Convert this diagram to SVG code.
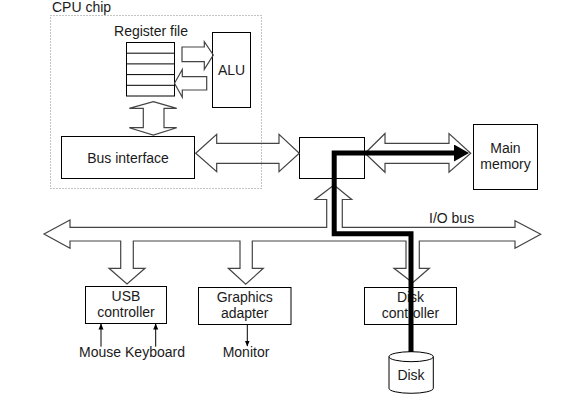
<svg xmlns="http://www.w3.org/2000/svg" width="561" height="410" viewBox="0 0 561 410">
<style>
text{font-family:"Liberation Sans",Arial,sans-serif;font-size:14px;fill:#1a1a1a}
.c{text-anchor:middle}
.box{fill:#fff;stroke:#000;stroke-width:1}
.hollow{fill:none;stroke:#444;stroke-width:1.2;stroke-linejoin:miter}
.thin{stroke:#000;stroke-width:1;fill:none}
.thick{stroke:#000;stroke-width:5;fill:none;stroke-linejoin:miter}
</style>
<defs>
<marker id="small" markerUnits="userSpaceOnUse" markerWidth="6" markerHeight="6" viewBox="0 0 6 6" refX="5.5" refY="3" orient="auto">
<path d="M0,0.5 L6,3 L0,5.5 z" fill="#000"/>
</marker>
<marker id="big" markerUnits="userSpaceOnUse" markerWidth="16" markerHeight="17" viewBox="0 0 16 17" refX="1" refY="8.5" orient="auto">
<path d="M0,0 L15,8.5 L0,17 z" fill="#000"/>
</marker>
</defs>

<g id="cpu-chip">
<rect x="50.5" y="15.5" width="211" height="173" fill="none" stroke="#888" stroke-width="1" stroke-dasharray="1,2"/>
<text x="52" y="11.5">CPU chip</text>
</g>

<g id="register-file">
<text class="c" x="151" y="36">Register file</text>
<rect class="box" x="126.5" y="42.5" width="48" height="53.5"/>
<path class="thin" d="M126.5,53.2H174.5M126.5,63.9H174.5M126.5,74.6H174.5M126.5,85.3H174.5"/>
</g>

<g id="alu">
<rect class="box" x="212.5" y="32.5" width="38" height="75"/>
<text class="c" x="231.5" y="75">ALU</text>
</g>

<g id="bus-interface">
<rect class="box" x="61.5" y="136.5" width="133" height="42"/>
<text class="c" x="128" y="163.3">Bus interface</text>
</g>

<g id="io-bridge">
<rect class="box" x="299.5" y="137.5" width="65" height="41"/>
</g>

<g id="main-memory">
<rect class="box" x="473.5" y="124.5" width="64" height="65"/>
<text class="c" x="505.5" y="153">Main</text>
<text class="c" x="505.5" y="169">memory</text>
</g>

<g id="usb-controller">
<rect class="box" x="85.5" y="286.5" width="81" height="37"/>
<text class="c" x="126" y="300.7">USB</text>
<text class="c" x="126" y="317.3">controller</text>
</g>

<g id="graphics-adapter">
<rect class="box" x="198.5" y="287.5" width="92.5" height="37"/>
<text class="c" x="244.7" y="301.7">Graphics</text>
<text class="c" x="244.7" y="318.3">adapter</text>
</g>

<g id="disk-controller">
<rect class="box" x="364.5" y="287.5" width="92" height="37"/>
<text class="c" x="410.5" y="301.7">Disk</text>
<text class="c" x="410.5" y="318.3">controller</text>
</g>

<g id="disk">
<path class="box" d="M389,356.7 A22.15,5 0 0 1 433.3,356.7 V388.3 A22.15,5 0 0 1 389,388.3 Z"/>
<path class="thin" d="M389,356.7 A22.15,5 0 0 0 433.3,356.7"/>
<text class="c" x="411" y="380">Disk</text>
</g>

<g id="mouse"><text class="c" x="100" y="357.3">Mouse</text></g>
<g id="keyboard"><text class="c" x="155" y="357.3">Keyboard</text></g>
<g id="monitor"><text class="c" x="246" y="357.3">Monitor</text></g>

<g id="connectors">
<polygon class="hollow" points="182,47 204.3,47 204.3,41.7 213.3,55 204.3,69.3 204.3,61.7 182,61.7"/>
<polygon class="hollow" points="206.7,76.7 182.3,76.7 182.3,69.5 174.5,83.3 182.3,97.3 182.3,90 206.7,90"/>
<polygon class="hollow" points="153.3,101.7 176.7,108.3 164,108.3 164,127.7 176.7,127.7 153.3,135 129.3,127.7 143.3,127.7 143.3,108.3 129.3,108.3"/>
<polygon class="hollow" points="195.7,153.3 216.7,134.3 216.7,143.3 279,143.3 279,134.3 299.3,153.3 279,171.7 279,163.3 216.7,163.3 216.7,171.7"/>
<polygon class="hollow" points="365,153.3 385,133.5 385,143.3 449,143.3 449,133.5 470.7,153.3 449,172.3 449,163.3 385,163.3 385,172.3"/>
<polygon class="hollow" points="44,234 70,220 70,227.3 326.7,227.3 326.7,199.5 315,199.5 334,185 351.7,199.5 342.3,199.5 342.3,227.3 515,227.3 515,220.7 540.7,234.3 515,248.3 515,241 419.3,241 419.3,268.3 429.3,268.3 412.7,282.7 394,268.3 406,268.3 406,241 252.3,241 252.3,268.3 263.3,268.3 245.7,284.3 228.3,268.3 240,268.3 240,241 133.3,241 133.3,268.3 145,268.3 127,284 109,268.3 120.7,268.3 120.7,241 70,241 70,248.3"/>
<text x="429" y="222.5">I/O bus</text>
<line class="thin" x1="101" y1="346.7" x2="101" y2="324" marker-end="url(#small)"/>
<line class="thin" x1="155.7" y1="346.7" x2="155.7" y2="324" marker-end="url(#small)"/>
<line class="thin" x1="247.3" y1="324.5" x2="247.3" y2="346" marker-end="url(#small)"/>
<path class="thick" d="M411,352 V233.8 H334.2 V153 H455" marker-end="url(#big)"/>
</g>
</svg>
